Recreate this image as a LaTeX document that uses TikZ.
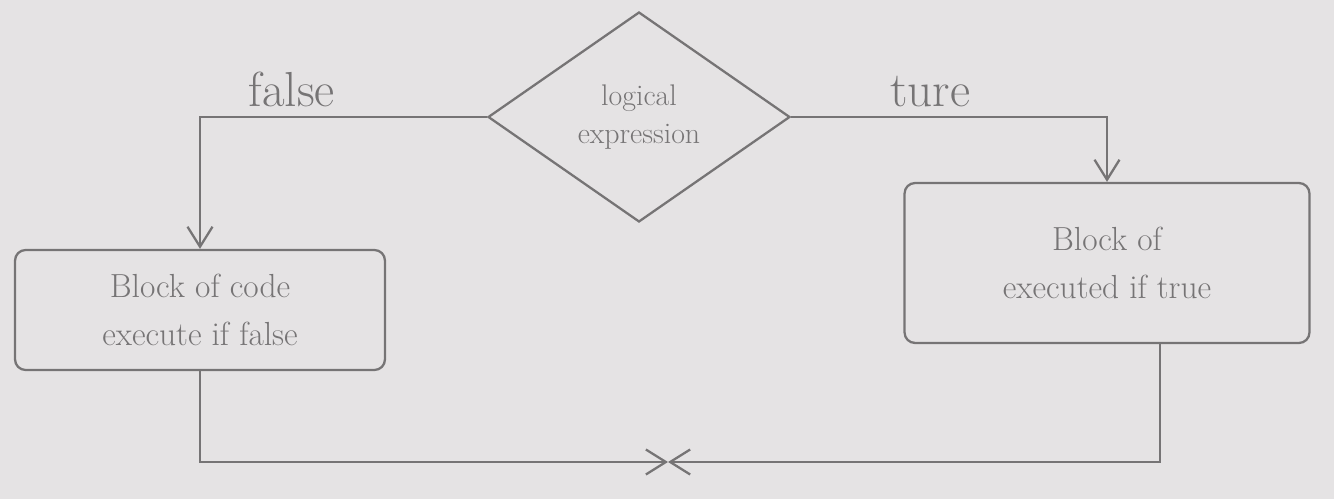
\documentclass[tikz,border=0pt]{standalone}
\usepackage{tikz}
\usepackage{xcolor}
\usetikzlibrary{positioning,arrows.meta,shapes.geometric,calc}
\definecolor{paper}{RGB}{229,227,228}
\definecolor{pencil}{RGB}{118,116,117}

\begin{document}
\begin{tikzpicture}[
          x=0.02cm, y=-0.02cm,
          box/.style={draw=pencil, line width=1.3pt, rounded corners=6pt, align=center, text=pencil, font=\fontsize{19}{27}\selectfont},
          cond/.style={draw=pencil, line width=1.3pt, diamond, shape aspect=1.44, inner sep=0pt, minimum width=6.04cm, minimum height=4.2cm, align=center, text=pencil, font=\fontsize{17}{22}\selectfont},
          lbl/.style={text=pencil, font=\fontsize{28}{30}\selectfont},
          arr/.style={-{Straight Barb[length=4mm, width=5mm]}, draw=pencil, line width=1.3pt}
      ]
        \useasboundingbox[fill=paper] (0,0) rectangle (1334,499);
        \node[cond] (expr) at (639,117) {logical\\expression};
        \node[box, minimum width=7.4cm, minimum height=2.4cm] (falseblk) at (200,310) {Block of code\\execute if false};
        \node[box, minimum width=8.1cm, minimum height=3.2cm] (trueblk) at (1107,263) {Block of\\executed if true};
        \coordinate (join) at (668,462);
        \draw[arr] (expr.west) -| node[lbl, pos=0.34, above=2pt] {false} (falseblk.north);
        \draw[arr] (expr.east) -| node[lbl, pos=0.22, above=2pt] {ture} (trueblk.north);
        \draw[arr] (falseblk.south) |- (join);
        \draw[arr] ([xshift=1.06cm]trueblk.south) |- (join);
      \end{tikzpicture}
\end{document}
